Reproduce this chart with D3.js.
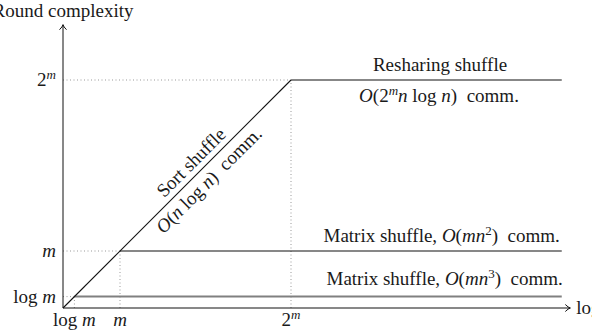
<!DOCTYPE html>
<html>
  <head>
    <meta charset="utf-8">
    <title>Round complexity of shuffles</title>
    <script src="https://cdn.jsdelivr.net/npm/d3@7/dist/d3.min.js"></script>
    <style>
      body { margin: 0; background: #fff; }
      svg { display: block; }
      text { font-family: "Liberation Serif", serif; font-size: 19px; fill: #1a1a1a; }
      .dot { stroke: #999; stroke-width: 1; stroke-dasharray: 1 2.5; fill: none; }
      .axis { stroke: #111; stroke-width: 1; fill: none; }
      .series { stroke: #111; stroke-width: 1.1; fill: none; }
    </style>
  </head>

  <body>
    <svg id="chart" width="592" height="336"></svg>

    <script>
      // tick positions (abstract units) and labels
      var tickValues = [0.2, 1, 4];
      var tickLabels = [
        [["log\u00a0", ""], ["m", "i"]],
        [["m", "i"]],
        [["2", ""], ["m", "sup"]]
      ];

      // horizontal series: level, start, end, colour, width
      var seriesLevel = [4, 1, 0.2];
      var seriesStart = [4, 1, 0.2];
      var seriesEnd = [8.75, 8.75, 8.75];
      var seriesColour = ["#111", "#111", "#808080"];
      var seriesWidth = [1.1, 1.1, 2];

      // diagonal (sort shuffle)
      var diagonal = [[0, 0], [4, 4]];

      var xMax = 8.9, yMax = 4.97, unit = 57;

      var svg = d3.select("#chart");
      var x = d3.scaleLinear().domain([0, xMax]).range([63, 63 + xMax * unit]);
      var y = d3.scaleLinear().domain([0, yMax]).range([308, 308 - yMax * unit]);

      // helper: write rich text pieces into a text element
      function rich(sel, parts) {
        parts.forEach(function(p) {
          var t = sel.append("tspan").text(p[0]);
          if (p[1] === "i") t.style("font-style", "italic");
          if (p[1] === "sup") t.style("font-style", "italic").attr("font-size", "13px").attr("baseline-shift", "7px");
          if (p[1] === "nsup") t.attr("font-size", "13px").attr("baseline-shift", "7px");
        });
        return sel;
      }

      // dotted guides
      tickValues.forEach(function(v) {
        svg.append("line").attr("class", "dot")
          .attr("x1", x(0)).attr("x2", x(v)).attr("y1", y(v)).attr("y2", y(v));
        svg.append("line").attr("class", "dot")
          .attr("x1", x(v)).attr("x2", x(v)).attr("y1", y(0)).attr("y2", y(v));
      });

      // series lines
      seriesLevel.forEach(function(v, i) {
        svg.append("line")
          .attr("x1", x(seriesStart[i])).attr("x2", x(seriesEnd[i]))
          .attr("y1", y(v)).attr("y2", y(v))
          .style("stroke", seriesColour[i])
          .style("stroke-width", seriesWidth[i]);
      });
      svg.append("path").attr("class", "series")
        .attr("d", d3.line().x(function(d) { return x(d[0]); }).y(function(d) { return y(d[1]); })(diagonal));

      // axes with arrows
      var xEnd = x(xMax), yEnd = y(yMax);
      svg.append("path").attr("class", "axis")
        .attr("d", "M" + x(0) + "," + y(0) + "H" + xEnd + "M" + x(0) + "," + y(0) + "V" + yEnd);
      svg.append("path").attr("class", "axis")
        .attr("d", "M" + (xEnd - 5) + "," + (y(0) - 3.5) + "Q" + (xEnd - 2) + "," + (y(0) - 0.5) + " " + xEnd + "," + y(0) +
                   "Q" + (xEnd - 2) + "," + (y(0) + 0.5) + " " + (xEnd - 5) + "," + (y(0) + 3.5));
      svg.append("path").attr("class", "axis")
        .attr("d", "M" + (x(0) - 3.5) + "," + (yEnd + 5) + "Q" + (x(0) - 0.5) + "," + (yEnd + 2) + " " + x(0) + "," + yEnd +
                   "Q" + (x(0) + 0.5) + "," + (yEnd + 2) + " " + (x(0) + 3.5) + "," + (yEnd + 5));

      // axis titles (cut off at the edges, as in the original)
      svg.append("text").attr("x", x(0)).attr("y", 17).attr("text-anchor", "middle").text("Round complexity");
      rich(svg.append("text").attr("x", xEnd + 6).attr("y", y(0) + 6), [["log\u00a0", ""], ["n", "i"]]);

      // tick labels
      tickValues.forEach(function(v, i) {
        rich(svg.append("text").attr("x", x(0) - 7).attr("y", y(v) + 6).attr("text-anchor", "end"), tickLabels[i]);
        rich(svg.append("text").attr("x", x(v)).attr("y", y(0) + 18).attr("text-anchor", "middle"), tickLabels[i]);
      });

      // series labels
      svg.append("text").attr("x", 440).attr("y", y(seriesLevel[0]) - 9).attr("text-anchor", "middle").text("Resharing shuffle");
      rich(svg.append("text").attr("x", 439).attr("y", y(seriesLevel[0]) + 22).attr("text-anchor", "middle"),
        [["O", "i"], ["(2", ""], ["m", "sup"], ["n", "i"], ["\u00a0log\u00a0", ""], ["n", "i"], [")\u00a0\u00a0comm.", ""]]);
      rich(svg.append("text").attr("x", x(seriesEnd[1]) - 2).attr("y", y(seriesLevel[1]) - 9).attr("text-anchor", "end"),
        [["Matrix shuffle, ", ""], ["O", "i"], ["(", ""], ["mn", "i"], ["2", "nsup"], [")\u00a0\u00a0comm.", ""]]);
      rich(svg.append("text").attr("x", x(seriesEnd[2]) + 1).attr("y", y(seriesLevel[2]) - 12).attr("text-anchor", "end"),
        [["Matrix shuffle, ", ""], ["O", "i"], ["(", ""], ["mn", "i"], ["3", "nsup"], [")\u00a0\u00a0comm.", ""]]);

      // diagonal labels
      var p = 2.4;
      var g = svg.append("g").attr("transform", "translate(" + x(p) + "," + y(p) + ") rotate(-45)");
      g.append("text").attr("y", -6).attr("text-anchor", "middle").text("Sort shuffle");
      rich(g.append("text").attr("y", 19).attr("text-anchor", "middle"),
        [["O", "i"], ["(", ""], ["n", "i"], ["\u00a0log\u00a0", ""], ["n", "i"], [")\u00a0\u00a0comm.", ""]]);
    </script>
  </body>
</html>
